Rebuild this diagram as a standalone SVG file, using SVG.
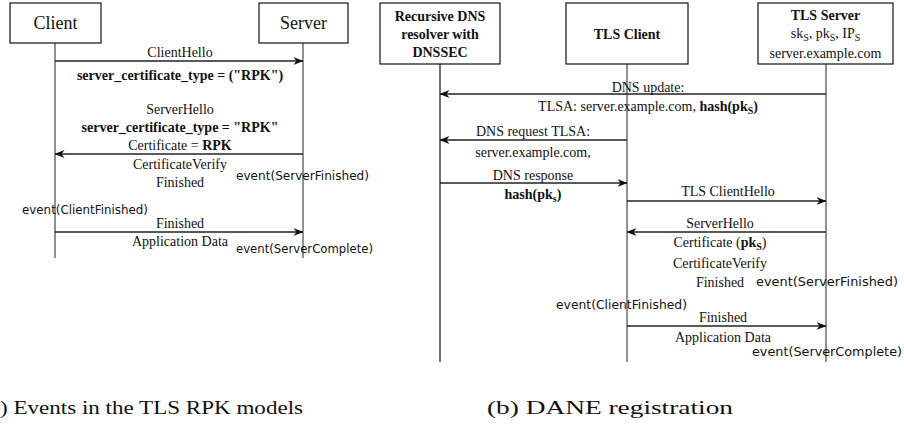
<svg xmlns="http://www.w3.org/2000/svg" width="904" height="439" viewBox="0 0 904 439">
<style>
text{font-family:"Liberation Serif","Times New Roman",serif;font-size:14px;fill:#111}
.b{font-weight:bold}
.c{text-anchor:middle}
.hd{font-size:18px}
.ev{font-family:"DejaVu Sans","Liberation Sans",sans-serif;font-size:13px}
.cap{font-size:19px}
.sub{font-size:10px}
.box{fill:#fff;stroke:#111;stroke-width:1.2}
.life{stroke:#555;stroke-width:1.3;fill:none}
.msg{stroke:#222;stroke-width:1.3;fill:none;marker-end:url(#ah)}
</style>
<defs>
<marker id="ah" viewBox="0 0 10 8" refX="9.5" refY="4" markerWidth="10" markerHeight="8" markerUnits="userSpaceOnUse" orient="auto"><path d="M0,0 L10,4 L0,8 L3,4 z" fill="#111"/></marker>
</defs>

<g id="a-client">
<line class="life" x1="55" y1="43" x2="55" y2="258"/>
<rect class="box" x="10" y="3" width="91" height="40"/>
<text class="c hd" x="55.5" y="29">Client</text>
</g>
<g id="a-server">
<line class="life" x1="303" y1="43" x2="303" y2="258"/>
<rect class="box" x="259" y="3" width="89" height="40"/>
<text class="c hd" x="303.5" y="29">Server</text>
</g>

<g id="b-dns">
<line class="life" x1="440" y1="64" x2="440" y2="362" style="stroke:#222"/>
<rect class="box" x="380" y="3" width="120" height="61"/>
<text class="c b" x="440" y="21">Recursive DNS</text>
<text class="c b" x="440" y="39">resolver with</text>
<text class="c b" x="440" y="57">DNSSEC</text>
</g>
<g id="b-client">
<line class="life" x1="627" y1="64" x2="627" y2="362"/>
<rect class="box" x="566" y="3" width="122" height="61"/>
<text class="c b" x="627" y="39">TLS Client</text>
</g>
<g id="b-server">
<line class="life" x1="826" y1="64" x2="826" y2="362"/>
<rect class="box" x="758" y="3" width="135" height="61"/>
<text class="c b" x="825.5" y="20">TLS Server</text>
<text class="c" x="825.5" y="38">sk<tspan class="sub" dy="3">S</tspan><tspan dy="-3">, pk</tspan><tspan class="sub" dy="3">S</tspan><tspan dy="-3">, IP</tspan><tspan class="sub" dy="3">S</tspan></text>
<text class="c" x="825.5" y="58">server.example.com</text>
</g>

<g id="connectors">
<path class="msg" d="M55,61 H303"/>
<path class="msg" d="M303,154 H55"/>
<path class="msg" d="M55,232 H303"/>
<path class="msg" d="M826,94 H440"/>
<path class="msg" d="M627,140 H440"/>
<path class="msg" d="M440,183 H627"/>
<path class="msg" d="M627,201 H826"/>
<path class="msg" d="M826,232 H627"/>
<path class="msg" d="M627,326 H826"/>
</g>

<g id="labels-a">
<text class="c" x="180" y="57">ClientHello</text>
<text class="c b" x="180" y="80">server_certificate_type = ("RPK")</text>
<text class="c" x="180" y="114">ServerHello</text>
<text class="c b" x="180" y="132">server_certificate_type = "RPK"</text>
<text class="c" x="180" y="150">Certificate = <tspan class="b">RPK</tspan></text>
<text class="c" x="180" y="169">CertificateVerify</text>
<text class="c" x="180" y="187">Finished</text>
<text class="ev" x="236" y="180" textLength="133" lengthAdjust="spacingAndGlyphs">event(ServerFinished)</text>
<text class="ev" x="22" y="214" textLength="126" lengthAdjust="spacingAndGlyphs">event(ClientFinished)</text>
<text class="c" x="180" y="228">Finished</text>
<text class="c" x="180" y="246">Application Data</text>
<text class="ev" x="236" y="253" textLength="137" lengthAdjust="spacingAndGlyphs">event(ServerComplete)</text>
</g>

<g id="labels-b">
<text class="c" x="648" y="92">DNS update:</text>
<text class="c" x="648" y="111">TLSA: server.example.com, <tspan class="b">hash(pk</tspan><tspan class="b sub" dy="3">S</tspan><tspan class="b" dy="-3">)</tspan></text>
<text class="c" x="533" y="136">DNS request TLSA:</text>
<text class="c" x="533" y="157">server.example.com,</text>
<text class="c" x="533" y="180">DNS response</text>
<text class="c b" x="533" y="199">hash(pk<tspan class="sub" dy="3">s</tspan><tspan dy="-3">)</tspan></text>
<text class="c" x="728" y="196">TLS ClientHello</text>
<text class="c" x="720" y="228">ServerHello</text>
<text class="c" x="720" y="247">Certificate (<tspan class="b">pk</tspan><tspan class="b sub" dy="3">S</tspan><tspan dy="-3">)</tspan></text>
<text class="c" x="720" y="268">CertificateVerify</text>
<text class="c" x="720" y="287">Finished</text>
<text class="ev" x="756" y="286" textLength="142" lengthAdjust="spacingAndGlyphs">event(ServerFinished)</text>
<text class="ev" x="556" y="309" textLength="131" lengthAdjust="spacingAndGlyphs">event(ClientFinished)</text>
<text class="c" x="723" y="322">Finished</text>
<text class="c" x="723" y="342">Application Data</text>
<text class="ev" x="752" y="356" textLength="150" lengthAdjust="spacingAndGlyphs">event(ServerComplete)</text>
</g>

<g id="captions">
<text class="cap" x="0" y="414" textLength="303" lengthAdjust="spacingAndGlyphs">) Events in the TLS RPK models</text>
<text class="cap" x="487" y="414" textLength="246" lengthAdjust="spacingAndGlyphs">(b) DANE registration</text>
</g>
</svg>
